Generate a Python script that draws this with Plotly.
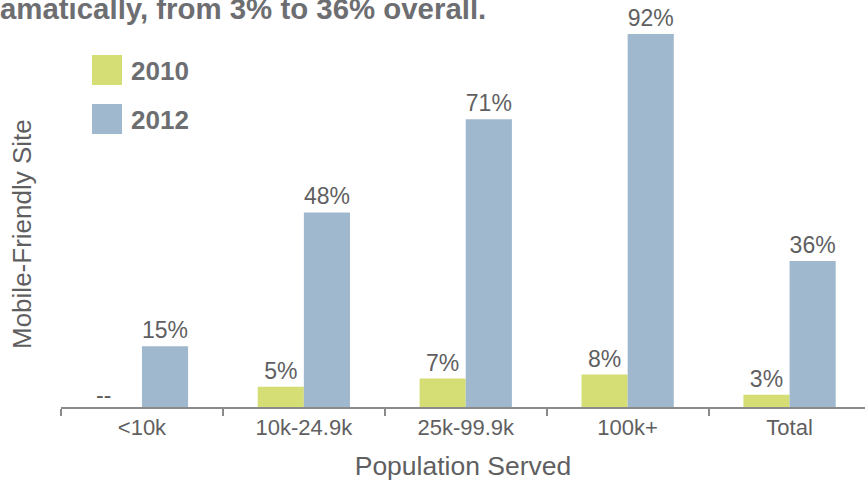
import plotly.graph_objects as go

categories = ["<10k", "10k-24.9k", "25k-99.9k", "100k+", "Total"]
values_2010 = [0, 5, 7, 8, 3]
labels_2010 = ["--", "5%", "7%", "8%", "3%"]
values_2012 = [15, 48, 71, 92, 36]
labels_2012 = ["15%", "48%", "71%", "92%", "36%"]
series_names = ["2010", "2012"]

GREEN = "#d5de75"
BLUE = "#a0b8cd"
TXT = "#5f5f62"
FONT = "Liberation Sans, Arial, sans-serif"

# the "--" (no data) label is drawn as a separate annotation, slightly left of its slot
bar_text_2010 = ["" if v == 0 else t for v, t in zip(values_2010, labels_2010)]

fig = go.Figure()
fig.add_trace(go.Bar(x=categories, y=values_2010, name=series_names[0], marker_color=GREEN,
                     marker_line_width=0, text=bar_text_2010, textposition="outside",
                     textfont=dict(size=23, color=TXT, family=FONT), cliponaxis=False))
fig.add_trace(go.Bar(x=categories, y=values_2012, name=series_names[1], marker_color=BLUE,
                     marker_line_width=0, text=labels_2012, textposition="outside",
                     textfont=dict(size=23, color=TXT, family=FONT), cliponaxis=False))

W, H = 865, 481
ML, MB = 61, 74
PW = W - ML
plot_h = H - MB
fig.update_layout(
    width=W, height=H,
    margin=dict(l=ML, r=0, t=0, b=MB),
    paper_bgcolor="white", plot_bgcolor="white",
    barmode="group", bargap=0.43, bargroupgap=0,
    showlegend=False,
    font=dict(family=FONT, color=TXT),
    uniformtext=dict(mode=False),
)
fig.update_xaxes(
    range=[-0.5, 4.466], showline=True, linecolor="#8a8a8a", linewidth=2,
    ticks="outside", tickson="boundaries", ticklen=7, tickwidth=2, tickcolor="#8a8a8a",
    tickfont=dict(size=22, color=TXT), showgrid=False,
    title=dict(text="Population Served", font=dict(size=26.5, color=TXT), standoff=19),
)
fig.update_yaxes(range=[0, plot_h / 4.054], visible=False, showgrid=False)

for cat, v, t in zip(categories, values_2010, labels_2010):
    if v == 0:
        fig.add_annotation(x=cat, y=v, text=t, showarrow=False, xshift=-38, yshift=12,
                           font=dict(size=23, color=TXT))

# Y axis title
fig.add_annotation(text="Mobile-Friendly Site", textangle=-90, xref="paper", yref="paper",
                   x=(22 - ML) / PW, xanchor="center", y=(plot_h - 234) / plot_h, yanchor="middle",
                   showarrow=False, font=dict(size=26, color=TXT))

# Cropped title (left part lies outside the picture in the reference)
fig.add_annotation(text="<b>amatically, from 3% to 36% overall.</b>", xref="paper", yref="paper",
                   x=(-2 - ML) / PW, xanchor="left", y=(plot_h - 8) / plot_h, yanchor="middle",
                   showarrow=False, font=dict(size=29.4, color="#6d6e71"))

# Legend
for i, (name, col) in enumerate(zip(series_names, [GREEN, BLUE])):
    top = 55 + i * 49
    fig.add_shape(type="rect", xref="paper", yref="paper",
                  x0=(92 - ML) / PW, x1=(122 - ML) / PW,
                  y0=(plot_h - top - 30) / plot_h, y1=(plot_h - top) / plot_h,
                  fillcolor=col, line_width=0)
    fig.add_annotation(text="<b>" + name + "</b>", xref="paper", yref="paper",
                       x=(129 - ML) / PW, xanchor="left",
                       y=(plot_h - top - 16) / plot_h, yanchor="middle",
                       showarrow=False, font=dict(size=26, color="#6d6e71"))

fig.write_html("out.html")
